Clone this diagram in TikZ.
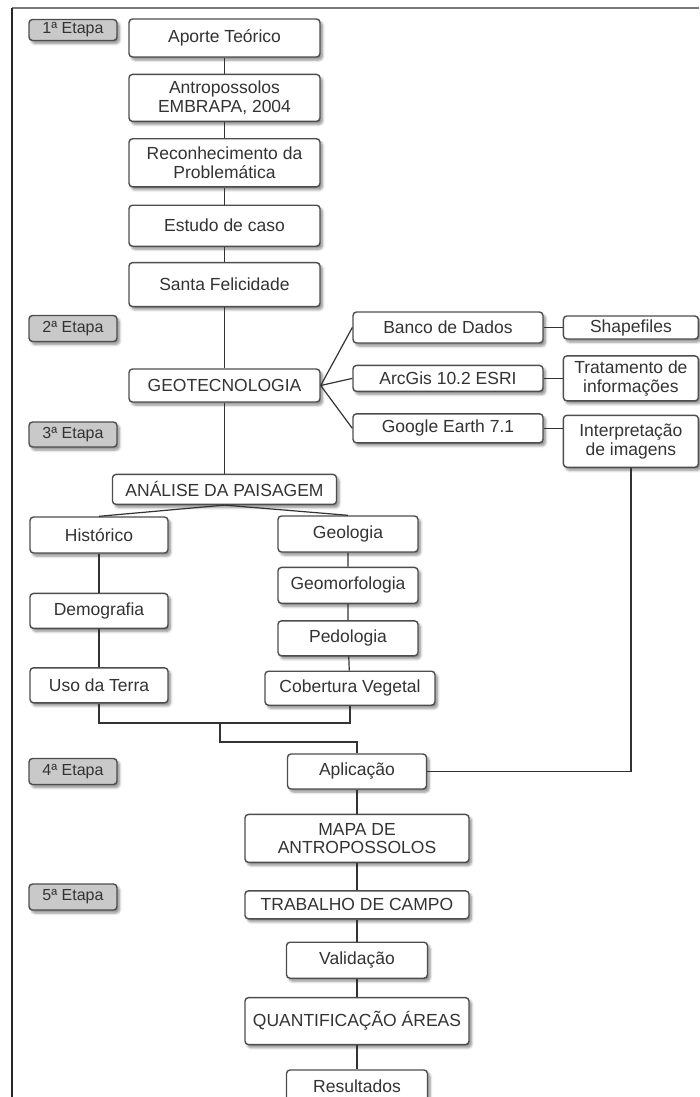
\documentclass[tikz,border=0pt]{standalone}
\usepackage{fontspec}
\setmainfont{Liberation Sans}
\usepackage{tikz}
\usetikzlibrary{positioning,shadows.blur}
\definecolor{boxline}{HTML}{4D4D4D}
\definecolor{txt}{HTML}{333333}
\definecolor{etapafill}{HTML}{C9C9C9}
\definecolor{frameline}{HTML}{7A7A7A}

\begin{document}
\begin{tikzpicture}[x=1pt, y=-1pt,
      box/.style={draw=boxline, fill=white, rounded corners=3.5pt, line width=1.4pt,
                  text=txt, align=center, inner sep=1pt,
                  font=\fontsize{17.5}{18.5}\selectfont,
                  blur shadow={shadow xshift=2.5pt, shadow yshift=-3pt, shadow blur steps=6,
                               shadow blur radius=2.5pt, shadow opacity=45}},
      etapa/.style={box, fill=etapafill, minimum width=88pt, minimum height=26pt,
                    font=\fontsize{16}{17}\selectfont},
      link/.style={draw=txt, line width=1.2pt}
    ]
      \useasboundingbox (0,0) rectangle (699,1097);
      \draw[frameline, line width=1.3pt] (699,8) -- (12,8);
      \draw[black!85, line width=1.3pt] (12,8) -- (12,1097);

      \node[box, minimum width=191pt, minimum height=38pt] (aporte) at (224.5,38) {Aporte Teórico};
      \node[box, minimum width=191pt, minimum height=47pt, below=16pt of aporte] (antrop) {Antropossolos\\EMBRAPA, 2004};
      \node[box, minimum width=191pt, minimum height=48pt, below=16pt of antrop] (reconh) {Reconhecimento da\\Problemática};
      \node[box, minimum width=191pt, minimum height=41pt, below=17pt of reconh] (estudo) {Estudo de caso};
      \node[box, minimum width=191pt, minimum height=44pt, below=15pt of estudo] (santa) {Santa Felicidade};
      \node[box, minimum width=191pt, minimum height=33pt, below=61pt of santa] (geotec) {GEOTECNOLOGIA};
      \node[box, minimum width=224pt, minimum height=30pt, below=71pt of geotec] (analise) {ANÁLISE DA PAISAGEM};

      \node[box, minimum width=190pt, minimum height=31pt] (banco) at (448,327.5) {Banco de Dados};
      \node[box, minimum width=190pt, minimum height=26pt, below=21pt of banco] (arcgis) {ArcGis 10.2 ESRI};
      \node[box, minimum width=190pt, minimum height=29pt, below=21pt of arcgis] (google) {Google Earth 7.1};
      \node[box, minimum width=135pt, minimum height=23pt, right=19pt of banco] (shape) {Shapefiles};
      \node[box, minimum width=135pt, minimum height=45pt, right=19pt of arcgis] (trat) {Tratamento de\\informações};
      \node[box, minimum width=135pt, minimum height=52pt, right=19pt of google, yshift=-13pt] (interp) {Interpretação\\de imagens};

      \node[box, minimum width=138pt, minimum height=36pt] (hist) at (99,535) {Histórico};
      \node[box, minimum width=138pt, minimum height=35pt, below=39pt of hist] (demo) {Demografia};
      \node[box, minimum width=138pt, minimum height=35pt, below=38pt of demo] (uso) {Uso da Terra};
      \node[box, minimum width=140pt, minimum height=36pt] (geol) at (348,534) {Geologia};
      \node[box, minimum width=140pt, minimum height=36pt, below=14pt of geol] (geomorf) {Geomorfologia};
      \node[box, minimum width=140pt, minimum height=35pt, below=16pt of geomorf] (pedo) {Pedologia};
      \node[box, minimum width=170pt, minimum height=34pt, below=14pt of pedo, xshift=2pt] (cobert) {Cobertura Vegetal};

      \node[box, minimum width=139pt, minimum height=35pt] (aplic) at (357,771.5) {Aplicação};
      \node[box, minimum width=224pt, minimum height=48pt, below=24pt of aplic] (mapa) {MAPA DE\\ANTROPOSSOLOS};
      \node[box, minimum width=224pt, minimum height=28pt, below=27pt of mapa] (campo) {TRABALHO DE CAMPO};
      \node[box, minimum width=141pt, minimum height=36pt, below=22pt of campo] (valid) {Validação};
      \node[box, minimum width=224pt, minimum height=47pt, below=18pt of valid] (quant) {QUANTIFICAÇÃO ÁREAS};
      \node[box, minimum width=141pt, minimum height=33pt, below=24pt of quant] (result) {Resultados};

      \node[etapa, minimum height=21pt] (e1) at (73,30) {1ª Etapa};
      \node[etapa] (e2) at (73,328.5) {2ª Etapa};
      \node[etapa, minimum height=25pt] (e3) at (73,434.5) {3ª Etapa};
      \node[etapa] (e4) at (73,771.5) {4ª Etapa};
      \node[etapa] (e5) at (73,897) {5ª Etapa};

      \coordinate (join) at (220,723);
      \coordinate (bend) at (220,742);

      \draw[link] (aporte) -- (antrop) -- (reconh) -- (estudo) -- (santa) -- (geotec) -- (analise);
      \draw[link] (geotec.east) -- (banco.west);
      \draw[link] (geotec.east) -- (arcgis.west);
      \draw[link] (geotec.east) -- (google.west);
      \draw[link] (banco) -- (shape);
      \draw[link] (arcgis) -- (trat);
      \draw[link] (google.east) -- (google.east -| interp.west);
      \draw[link] (analise.south) -- (hist.north);
      \draw[link] (analise.south) -- (geol.north);
      \draw[link] (hist) -- (demo) -- (uso);
      \draw[link] (geol) -- (geomorf) -- (pedo) -- (cobert);
      \draw[link] (uso.south) |- (join) -| (cobert.south);
      \draw[link] (join) -- (bend) -| (aplic.north);
      \draw[link] (interp.south) |- (aplic.east);
      \draw[link] (aplic) -- (mapa) -- (campo) -- (valid) -- (quant) -- (result);
    \end{tikzpicture}
\end{document}
